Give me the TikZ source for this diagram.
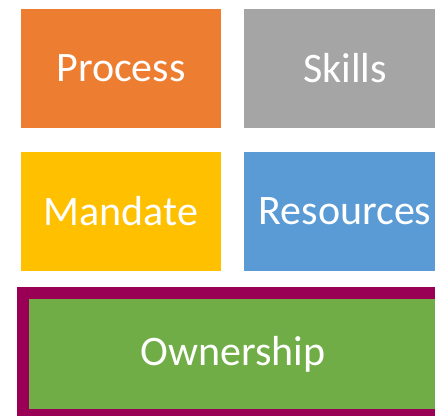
\documentclass[tikz,border=0pt]{standalone}
\usepackage{fontspec}
\setmainfont{Carlito}
\usepackage{tikz}
\usetikzlibrary{positioning}
\definecolor{tileorange}{RGB}{237,125,49}
\definecolor{tilegray}{RGB}{165,165,165}
\definecolor{tileyellow}{RGB}{255,192,0}
\definecolor{tileblue}{RGB}{91,155,213}
\definecolor{tilegreen}{RGB}{112,173,71}
\definecolor{tilepurple}{RGB}{153,0,85}
\tikzset{
    tile/.style={rectangle, draw=none, text=white, inner sep=0pt,
        minimum height=119pt, font=\fontsize{42}{50}\selectfont},
    lefttile/.style={tile, minimum width=200pt},
    righttile/.style={tile, minimum width=202pt},
    owntile/.style={tile, fill=tilegreen, draw=tilepurple, line width=12pt,
        minimum width=420pt, minimum height=122pt}
}
\begin{document}
\begin{tikzpicture}[x=1pt,y=-1pt]
	\useasboundingbox (0,0) rectangle (435,415);
	\clip (0,0) rectangle (435,415);
	\node[lefttile, fill=tileorange] (process) at (121,68.5) {Process};
	\node[righttile, fill=tilegray] (skills) at (345,68.5) {Skills};
	\node[lefttile, fill=tileyellow] (mandate) at (121,211.5) {Mandate};
	\node[righttile, fill=tileblue] (resources) at (345,211.5) {Resources};
	\node[owntile] (ownership) at (233,354) {Ownership};
\end{tikzpicture}
\end{document}
